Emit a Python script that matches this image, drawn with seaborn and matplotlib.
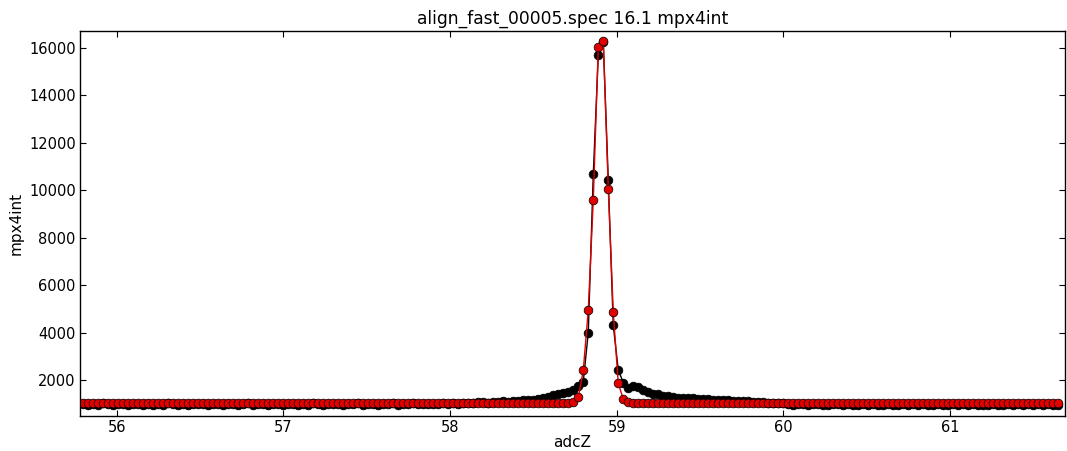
import matplotlib
matplotlib.use("Agg")
import matplotlib.pyplot as plt
import seaborn as sns
import pandas as pd

adcZ = [
    55.80, 55.83, 55.86, 55.89, 55.92, 55.95, 55.98, 56.01, 56.04, 56.07,
    56.10, 56.13, 56.16, 56.19, 56.22, 56.25, 56.28, 56.31, 56.34, 56.37,
    56.40, 56.43, 56.46, 56.49, 56.52, 56.55, 56.58, 56.61, 56.64, 56.67,
    56.70, 56.73, 56.76, 56.79, 56.82, 56.85, 56.88, 56.91, 56.94, 56.97,
    57.00, 57.03, 57.06, 57.09, 57.12, 57.15, 57.18, 57.21, 57.24, 57.27,
    57.30, 57.33, 57.36, 57.39, 57.42, 57.45, 57.48, 57.51, 57.54, 57.57,
    57.60, 57.63, 57.66, 57.69, 57.72, 57.75, 57.78, 57.81, 57.84, 57.87,
    57.90, 57.93, 57.96, 57.99, 58.02, 58.05, 58.08, 58.11, 58.14, 58.17,
    58.20, 58.23, 58.26, 58.29, 58.32, 58.35, 58.38, 58.41, 58.44, 58.47,
    58.50, 58.53, 58.56, 58.59, 58.62, 58.65, 58.68, 58.71, 58.74, 58.77,
    58.80, 58.83, 58.86, 58.89, 58.92, 58.95, 58.98, 59.01, 59.04, 59.07,
    59.10, 59.13, 59.16, 59.19, 59.22, 59.25, 59.28, 59.31, 59.34, 59.37,
    59.40, 59.43, 59.46, 59.49, 59.52, 59.55, 59.58, 59.61, 59.64, 59.67,
    59.70, 59.73, 59.76, 59.79, 59.82, 59.85, 59.88, 59.91, 59.94, 59.97,
    60.00, 60.03, 60.06, 60.09, 60.12, 60.15, 60.18, 60.21, 60.24, 60.27,
    60.30, 60.33, 60.36, 60.39, 60.42, 60.45, 60.48, 60.51, 60.54, 60.57,
    60.60, 60.63, 60.66, 60.69, 60.72, 60.75, 60.78, 60.81, 60.84, 60.87,
    60.90, 60.93, 60.96, 60.99, 61.02, 61.05, 61.08, 61.11, 61.14, 61.17,
    61.20, 61.23, 61.26, 61.29, 61.32, 61.35, 61.38, 61.41, 61.44, 61.47,
    61.50, 61.53, 61.56, 61.59, 61.62, 61.65,
]

mpx4int = [
    1000, 960, 990, 950, 1010, 970, 940, 985, 1000, 960,
    975, 990, 945, 1005, 960, 980, 950, 1010, 990, 965,
    985, 955, 1000, 970, 990, 940, 980, 1005, 960, 975,
    995, 950, 985, 1010, 965, 980, 1000, 955, 990, 970,
    960, 1005, 975, 950, 990, 965, 1010, 980, 940, 985,
    970, 1000, 960, 990, 975, 1015, 955, 985, 1000, 965,
    990, 970, 1010, 960, 995, 980, 1020, 975, 1000, 985,
    1000, 980, 1020, 995, 1010, 990, 1030, 1050, 1030, 1060,
    1070, 1050, 1090, 1080, 1100, 1090, 1120, 1110, 1150, 1140,
    1170, 1200, 1230, 1290, 1380, 1430, 1440, 1500, 1580, 1760,
    1930, 4000, 10660, 15680, 16250, 10420, 4300, 2420, 1890, 1650,
    1760, 1700, 1560, 1500, 1430, 1400, 1340, 1320, 1280, 1250,
    1240, 1220, 1230, 1200, 1180, 1190, 1170, 1160, 1150, 1140,
    1130, 1120, 1110, 1100, 1090, 1080, 1060, 1050, 1040, 1030,
    1020, 990, 960, 1000, 975, 950, 985, 1005, 960, 940,
    990, 970, 945, 1000, 960, 930, 980, 955, 990, 940,
    965, 985, 935, 960, 1000, 950, 975, 940, 990, 960,
    945, 980, 960, 930, 995, 955, 970, 940, 985, 950,
    965, 935, 990, 960, 945, 980, 950, 970, 935, 985,
    955, 975, 940, 990, 960, 945,
]

fit = [
    1035, 1035, 1035, 1035, 1035, 1035, 1035, 1035, 1035, 1035,
    1035, 1035, 1035, 1035, 1035, 1035, 1035, 1035, 1035, 1035,
    1035, 1035, 1035, 1035, 1035, 1035, 1035, 1035, 1035, 1035,
    1035, 1035, 1035, 1035, 1035, 1035, 1035, 1035, 1035, 1035,
    1035, 1035, 1035, 1035, 1035, 1035, 1035, 1035, 1035, 1035,
    1035, 1035, 1035, 1035, 1035, 1035, 1035, 1035, 1035, 1035,
    1035, 1035, 1035, 1035, 1035, 1035, 1035, 1035, 1035, 1035,
    1035, 1035, 1035, 1035, 1035, 1035, 1035, 1035, 1035, 1035,
    1035, 1035, 1035, 1035, 1035, 1035, 1035, 1035, 1035, 1035,
    1035, 1035, 1035, 1035, 1035, 1035, 1035, 1040, 1060, 1270,
    2400, 4950, 9570, 16040, 16290, 10060, 4850, 1860, 1190, 1070,
    1045, 1035, 1035, 1035, 1035, 1035, 1035, 1035, 1035, 1035,
    1035, 1035, 1035, 1035, 1035, 1035, 1035, 1035, 1035, 1035,
    1035, 1035, 1035, 1035, 1035, 1035, 1035, 1035, 1035, 1035,
    1035, 1035, 1035, 1035, 1035, 1035, 1035, 1035, 1035, 1035,
    1035, 1035, 1035, 1035, 1035, 1035, 1035, 1035, 1035, 1035,
    1035, 1035, 1035, 1035, 1035, 1035, 1035, 1035, 1035, 1035,
    1035, 1035, 1035, 1035, 1035, 1035, 1035, 1035, 1035, 1035,
    1035, 1035, 1035, 1035, 1035, 1035, 1035, 1035, 1035, 1035,
    1035, 1035, 1035, 1035, 1035, 1035,
]

x_ticks = [56, 57, 58, 59, 60, 61]
y_ticks = [2000, 4000, 6000, 8000, 10000, 12000, 14000, 16000]

title = "align_fast_00005.spec 16.1 mpx4int"

df = pd.DataFrame({"adcZ": adcZ, "mpx4int": mpx4int, "fit": fit})

sns.set_style("ticks")
plt.rcParams["font.family"] = ["DejaVu Sans"]
plt.rcParams["text.color"] = "black"
plt.rcParams["axes.labelcolor"] = "black"

fig = plt.figure(figsize=(10.67, 4.51), dpi=100)
fig.patch.set_facecolor("white")
ax = fig.add_axes([0.075, 0.078, 0.923, 0.853])

sns.lineplot(data=df, x="adcZ", y="mpx4int", ax=ax, color="black",
             marker="o", markersize=6.3, markeredgecolor="black",
             markeredgewidth=0.5, linewidth=1, sort=False, estimator=None)
sns.lineplot(data=df, x="adcZ", y="fit", ax=ax, color="#e00000",
             marker="o", markersize=6.3, markerfacecolor="#e00000",
             markeredgecolor="black", markeredgewidth=0.5, linewidth=1,
             sort=False, estimator=None)

ax.set_xlim(55.78, 61.69)
ax.set_ylim(490, 16700)
ax.set_xticks(x_ticks)
ax.set_yticks(y_ticks)
ax.tick_params(direction="in", top=True, right=True, length=4, pad=3,
               labelsize=10.5, colors="black")
for s in ax.spines.values():
    s.set_visible(True)
    s.set_color("black")
    s.set_linewidth(1)
ax.set_xlabel("adcZ", fontsize=11, labelpad=0, color="black")
ax.set_ylabel("mpx4int", fontsize=11, labelpad=4, color="black")
ax.set_title(title, fontsize=12.3, pad=5, color="black")

fig.savefig("out.png", dpi=100, facecolor="white")
